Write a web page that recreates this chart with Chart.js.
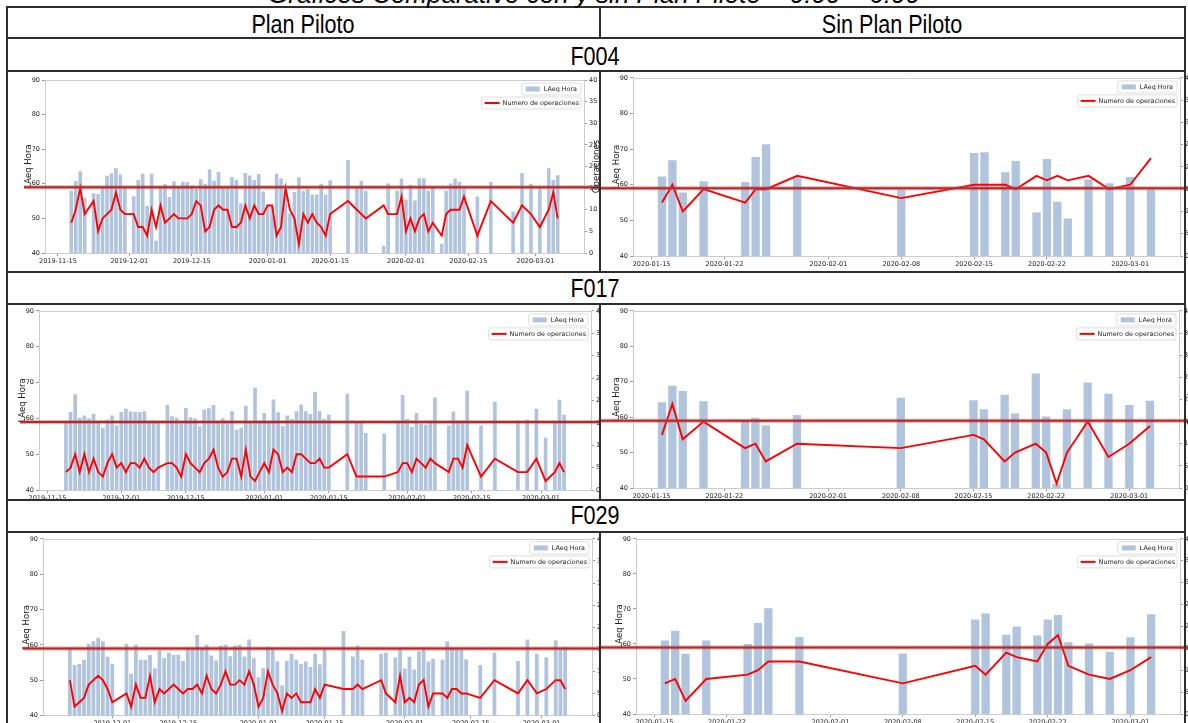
<!DOCTYPE html>
<html lang="es">
<head>
<meta charset="utf-8">
<title>Gráficos Comparativo con y sin Plan Piloto</title>
<script src="https://cdn.jsdelivr.net/npm/chart.js@4.4.1/dist/chart.umd.min.js"></script>
<style>
  html, body { margin:0; padding:0; background:#fff; }
  body { width:1188px; height:723px; position:relative; overflow:hidden; font-family:"Liberation Sans", Arial, sans-serif; }
  .cell { position:absolute; overflow:hidden; }
  .cell canvas { position:absolute; left:0; top:0; }
  .hl, .vl { position:absolute; background:#2e2e2e; }
  .hl { height:2px; }
  .vl { width:2px; }
  .t { position:absolute; white-space:nowrap; line-height:26px; font-size:26px; color:#000; transform:translateX(-50%) scaleX(0.83); }
</style>
</head>
<body>
<script>
// ---------------- DATA ----------------
const leftTickLabels  = ['2019-11-15','2019-12-01','2019-12-15','2020-01-01','2020-01-15','2020-02-01','2020-02-15','2020-03-01'];
const rightTickLabels = ['2020-01-15','2020-01-22','2020-02-01','2020-02-08','2020-02-15','2020-02-22','2020-03-01'];
const thresholdLAeq = 59;

// F004 - Plan Piloto
const f004PlanDates = [
 '2019-11-18','2019-11-19','2019-11-20','2019-11-21','2019-11-23','2019-11-24','2019-11-25','2019-11-26','2019-11-27','2019-11-28','2019-11-29','2019-11-30',
 '2019-12-02','2019-12-03','2019-12-04','2019-12-05','2019-12-06','2019-12-07','2019-12-08','2019-12-09','2019-12-10','2019-12-11','2019-12-12','2019-12-13','2019-12-14','2019-12-15','2019-12-16',
 '2019-12-17','2019-12-18','2019-12-19','2019-12-20','2019-12-21','2019-12-22','2019-12-23','2019-12-24','2019-12-25','2019-12-26','2019-12-27','2019-12-28','2019-12-29','2019-12-30','2019-12-31',
 '2020-01-01','2020-01-02','2020-01-03','2020-01-04','2020-01-05','2020-01-06','2020-01-07','2020-01-08','2020-01-09','2020-01-10','2020-01-11','2020-01-12','2020-01-13','2020-01-14','2020-01-15',
 '2020-01-19','2020-01-21','2020-01-22','2020-01-23','2020-01-27','2020-01-28','2020-01-30','2020-01-31',
 '2020-02-01','2020-02-02','2020-02-03','2020-02-04','2020-02-05','2020-02-06','2020-02-07',
 '2020-02-09','2020-02-10','2020-02-11','2020-02-12','2020-02-13','2020-02-14',
 '2020-02-17','2020-02-20','2020-02-25','2020-02-27','2020-02-29','2020-03-02','2020-03-04','2020-03-05','2020-03-06'];
const f004PlanLAeq = [
 58.0,60.8,63.6,56.0, 57.3,57.1,58.8,62.3,63.0,64.5,62.7,58.8,
 56.4,61.1,62.9,53.6,62.9,43.6,59.2,59.9,56.2,60.7,58.7,60.6,60.5,59.5,58.5,
 61.3,59.9,64.1,60.9,63.4,58.8,58.8,62.0,61.2,54.4,63.1,62.4,61.1,62.8,57.8,
 54.1,53.5,62.9,61.6,57.6,51.5,57.6,61.9,57.9,58.5,56.9,56.9,60.0,56.8,61.0,
 66.9,59.0,60.9,58.0,42.1,60.1,58.0,61.5,
 55.4,59.7,55.2,61.6,61.6,58.0,59.0,
 42.7,58.0,60.1,61.5,60.5,58.7,
 56.3,60.5,52.0,63.1,60.0,59.0,64.5,61.1,62.5];
const f004PlanOps = [
 7,10,15,9, 12,5,8,9,10,14,10,9,
 9,6,6,4,10,6,11,7,8,9,8,8,8,9,12,
 11,5,6,10,11,10,10,6,6,7,11,8,11,9,9,
 11,11,4,6,15,10,8,2,9,7,9,7,6,4,9,
 12,10,9,8,11,9,9,13,
 5,8,5,8,9,5,7,
 4,9,10,10,10,13,
 4,12,7,11,9,6,10,14,8];

// F017 - Plan Piloto
const f017PlanDates = [
 '2019-11-19','2019-11-20','2019-11-21','2019-11-22','2019-11-23','2019-11-24','2019-11-25','2019-11-26','2019-11-27','2019-11-28','2019-11-29','2019-11-30',
 '2019-12-01','2019-12-02','2019-12-03','2019-12-04','2019-12-05','2019-12-06','2019-12-07','2019-12-08','2019-12-09',
 '2019-12-11','2019-12-12','2019-12-13','2019-12-14','2019-12-15','2019-12-16','2019-12-17','2019-12-18','2019-12-19','2019-12-20','2019-12-21',
 '2019-12-22','2019-12-23','2019-12-24','2019-12-25','2019-12-26','2019-12-27','2019-12-28','2019-12-29','2019-12-30','2019-12-31',
 '2020-01-01','2020-01-02','2020-01-03','2020-01-04','2020-01-05','2020-01-06','2020-01-07','2020-01-08','2020-01-09','2020-01-10','2020-01-11','2020-01-12','2020-01-13','2020-01-14','2020-01-15',
 '2020-01-19','2020-01-21','2020-01-22','2020-01-23','2020-01-27','2020-01-30','2020-01-31',
 '2020-02-01','2020-02-02','2020-02-03','2020-02-04','2020-02-05','2020-02-06','2020-02-07',
 '2020-02-10','2020-02-11','2020-02-12','2020-02-13','2020-02-14',
 '2020-02-17','2020-02-20','2020-02-25','2020-02-27','2020-02-29','2020-03-02','2020-03-04','2020-03-05','2020-03-06'];
const f017PlanLAeq = [
 59.2,61.8,66.7,60.2,60.8,60.0,61.3,59.0,57.4,59.7,60.8,58.1,
 61.8,62.7,61.9,61.8,61.8,62.0,59.0,59.5,59.2,
 63.8,60.6,60.2,58.6,62.9,60.3,60.0,57.8,62.5,62.8,63.7,
 59.3,60.0,58.6,62.0,56.8,57.4,63.5,59.2,68.6,59.2,
 61.5,59.0,65.3,61.7,57.9,60.8,59.8,62.0,63.9,62.0,61.2,67.4,62.0,59.9,61.0,
 66.9,59.0,58.8,55.9,55.8,59.0,66.5,
 59.8,57.6,61.5,58.5,58.3,59.3,65.8,
 58.0,61.9,59.3,59.3,67.7,
 58.0,64.6,59.3,59.7,62.7,54.6,59.0,65.2,61.0];
const f017PlanOps = [
 4,5,8,4,8,4,7,4,3,6,8,5,
 6,4,6,6,5,7,5,4,5,
 6,6,5,3,8,6,5,4,6,7,9,
 5,3,4,7,7,3,9,3,2,4,
 6,4,9,8,4,5,4,8,8,7,6,6,7,5,5,
 8,3,3,3,3,4,6,
 6,4,7,6,5,7,6,
 4,7,7,5,10,
 3,7,4,4,7,2,4,6,4];

// F029 - Plan Piloto
const f029PlanDates = [
 '2019-11-22','2019-11-23','2019-11-24','2019-11-25','2019-11-26','2019-11-27','2019-11-28','2019-11-29','2019-11-30','2019-12-01',
 '2019-12-04','2019-12-05','2019-12-06','2019-12-07','2019-12-08','2019-12-09','2019-12-10','2019-12-11','2019-12-12','2019-12-13','2019-12-14',
 '2019-12-15','2019-12-16','2019-12-17','2019-12-18','2019-12-19','2019-12-20','2019-12-21','2019-12-22','2019-12-23','2019-12-24','2019-12-25',
 '2019-12-26','2019-12-27','2019-12-28','2019-12-29','2019-12-30','2019-12-31',
 '2020-01-01','2020-01-02','2020-01-03','2020-01-04','2020-01-05','2020-01-06','2020-01-07','2020-01-08','2020-01-09','2020-01-10','2020-01-11','2020-01-12','2020-01-13','2020-01-14','2020-01-15',
 '2020-01-19','2020-01-21','2020-01-22','2020-01-23','2020-01-27','2020-01-28','2020-01-30','2020-01-31',
 '2020-02-01','2020-02-02','2020-02-03','2020-02-04','2020-02-05','2020-02-06','2020-02-07',
 '2020-02-09','2020-02-10','2020-02-11','2020-02-12','2020-02-13','2020-02-14',
 '2020-02-17','2020-02-20','2020-02-25','2020-02-27','2020-02-29','2020-03-02','2020-03-04','2020-03-05','2020-03-06'];
const f029PlanLAeq = [
 59.2,54.3,54.6,55.8,60.3,61.0,62.0,61.0,56.6,54.6,
 60.3,51.8,60.0,55.8,55.8,57.1,53.4,58.5,56.3,57.8,57.1,
 57.2,55.4,59.1,59.1,62.8,59.1,60.0,57.0,55.6,59.8,60.0,
 56.8,59.8,60.0,56.7,61.5,56.2,
 50.8,53.4,59.5,58.8,55.3,48.5,55.5,57.4,55.8,54.6,55.3,53.7,57.5,54.5,59.0,
 63.9,56.7,59.8,55.8,57.5,57.8,56.4,58.9,
 53.3,56.6,53.0,58.2,59.3,55.3,56.1,
 55.8,61.0,59.1,59.1,58.8,55.9,
 54.3,57.8,55.4,61.5,57.5,56.5,61.3,59.0,59.5];
const f029PlanOps = [
 8,2,3,4,7,8,9,8,6,3,
 5,2,7,4,4,9,3,6,5,6,7,
 6,5,6,6,7,5,9,6,5,7,10,
 7,7,8,7,10,7,
 2,4,10,7,5,1,5,4,5,3,3,3,6,4,7,
 6,6,7,6,8,5,3,9,
 3,4,3,7,8,2,5,
 5,4,6,6,5,5,
 4,8,5,8,5,6,8,8,6];

// Sin Plan Piloto (same days for the three stations)
const sinPlanDates = ['2020-01-16','2020-01-17','2020-01-18','2020-01-20','2020-01-24','2020-01-25','2020-01-26','2020-01-29','2020-02-08',
 '2020-02-15','2020-02-16','2020-02-18','2020-02-19','2020-02-21','2020-02-22','2020-02-23','2020-02-24','2020-02-26','2020-02-28','2020-03-01','2020-03-03'];
const f004SinLAeq = [62.3,66.9,57.8,61.0,60.8,67.8,71.4,62.3,58.5,68.9,69.1,63.5,66.7,52.2,67.2,55.2,50.5,61.5,60.4,62.2,58.7];
const f004SinOps  = [12,16,10,15,12,15,15,18,13,16,16,16,15,18,17,18,17,18,15,16,22];
const f017SinLAeq = [64.2,68.9,67.4,64.5,59.0,59.8,57.7,60.6,65.5,64.8,62.2,66.3,61.0,72.3,60.2,41.2,62.2,69.8,66.6,63.4,64.6];
const f017SinOps  = [12,19,11,15,9,10,6,10,9,12,11,6,8,10,8,1,8,15,7,10,14];
const f029SinLAeq = [61.0,63.8,57.2,61.0,60.0,66.0,70.2,62.0,57.3,67.0,68.7,62.6,65.0,62.4,67.0,68.3,60.5,60.1,57.8,61.9,68.5];
const f029SinOps  = [7,8,3,8,9,10,12,12,7,11,9,14,13,12,16,18,11,9,8,10,13];

// ---------------- LAYOUT (page pixels) ----------------
// cell: [x, y, w, h]; plot: [left, right, top, bottom]
const LAYOUT = {
  f004Plan: {cell:[8,72,591,199],   plot:[45,584,80,253],        lineStart:16},
  f004Sin:  {cell:[601,72,587,199], plot:[633,1180,77,256],      lineStart:0},
  f017Plan: {cell:[8,305,591,194],  plot:[39,591,310,490],       lineStart:12},
  f017Sin:  {cell:[601,305,587,194],plot:[633,1179,310,488],     lineStart:0},
  f029Plan: {cell:[8,533,591,190],  plot:[43,592,538.5,715.5],   lineStart:15},
  f029Sin:  {cell:[601,533,587,190],plot:[636,1180,537,714],     lineStart:0}
};

// ---------------- HELPERS ----------------
Chart.defaults.font.family = "'DejaVu Sans', 'Liberation Sans', sans-serif";
const TICK_COLOR = '#222';
const SPINE = '#cccccc';
const BAR_COLOR = '#b0c4de';
const toDay = s => Date.UTC(+s.slice(0,4), +s.slice(5,7)-1, +s.slice(8,10)) / 864e5;
function xRange(days, w) {
  const lo = Math.min(...days) - w/2, hi = Math.max(...days) + w/2, m = (hi - lo) * 0.05;
  return [lo - m, hi + m];
}
function rrect(ctx, x, y, w, h, r) {
  ctx.beginPath();
  ctx.moveTo(x + r, y); ctx.lineTo(x + w - r, y); ctx.quadraticCurveTo(x + w, y, x + w, y + r);
  ctx.lineTo(x + w, y + h - r); ctx.quadraticCurveTo(x + w, y + h, x + w - r, y + h);
  ctx.lineTo(x + r, y + h); ctx.quadraticCurveTo(x, y + h, x, y + h - r);
  ctx.lineTo(x, y + r); ctx.quadraticCurveTo(x, y, x + r, y); ctx.closePath();
}

const decor = {
  id: 'decor',
  afterDraw(chart, args, o) {
    const {ctx, chartArea: a, scales} = chart;
    ctx.save();
    // top spine
    ctx.strokeStyle = SPINE; ctx.lineWidth = 1;
    ctx.beginPath(); ctx.moveTo(a.left, Math.round(a.top) + 0.5); ctx.lineTo(a.right, Math.round(a.top) + 0.5); ctx.stroke();
    // threshold line
    const ty = scales.y.getPixelForValue(o.threshold);
    ctx.strokeStyle = 'rgba(205,90,90,0.5)'; ctx.lineWidth = 4;
    ctx.beginPath(); ctx.moveTo(o.lineStart, ty); ctx.lineTo(chart.width, ty); ctx.stroke();
    ctx.strokeStyle = '#b42a2a'; ctx.lineWidth = 2;
    ctx.beginPath(); ctx.moveTo(o.lineStart, ty); ctx.lineTo(chart.width, ty); ctx.stroke();
    // legends
    const barDs = chart.data.datasets.find(d => d.type === 'bar');
    const lineDs = chart.data.datasets.find(d => d.type === 'line');
    ctx.font = "6.4px 'DejaVu Sans'";
    ctx.textBaseline = 'middle'; ctx.textAlign = 'left';
    const right = a.right - 3;
    const w1 = ctx.measureText(barDs.label).width + 26;
    const w2 = ctx.measureText(lineDs.label).width + 23;
    let x = right - w1, y = a.top + 3;
    rrect(ctx, x, y, w1, 12, 2);
    ctx.fillStyle = 'rgba(255,255,255,0.85)'; ctx.fill();
    ctx.strokeStyle = '#d6d6d6'; ctx.lineWidth = 0.8; ctx.stroke();
    ctx.fillStyle = barDs.backgroundColor; ctx.fillRect(x + 4, y + 3.5, 14, 5);
    ctx.fillStyle = '#222'; ctx.fillText(barDs.label, x + 22, y + 6.3);
    x = right - w2; y = a.top + 17;
    rrect(ctx, x, y, w2, 12, 2);
    ctx.fillStyle = 'rgba(255,255,255,0.85)'; ctx.fill();
    ctx.strokeStyle = '#d6d6d6'; ctx.lineWidth = 0.8; ctx.stroke();
    ctx.strokeStyle = lineDs.borderColor; ctx.lineWidth = 2;
    ctx.beginPath(); ctx.moveTo(x + 3, y + 6); ctx.lineTo(x + 18, y + 6); ctx.stroke();
    ctx.fillStyle = '#222'; ctx.fillText(lineDs.label, x + 21, y + 6.3);
    // right axis title
    ctx.translate(a.right + 13, (a.top + a.bottom) / 2);
    ctx.rotate(-Math.PI / 2);
    ctx.font = "8.5px 'DejaVu Sans'"; ctx.textAlign = 'center'; ctx.fillStyle = '#222';
    ctx.fillText('Operaciones', 0, 0);
    ctx.restore();
  }
};

function build(key, dates, laeq, ops, tickLabels) {
  if (dates.length !== laeq.length || dates.length !== ops.length) console.error('length mismatch', key, dates.length, laeq.length, ops.length);
  const L = LAYOUT[key];
  const [cx, cy, cw, ch] = L.cell;
  const [pl, pr, pt, pb] = L.plot;
  const wrap = document.createElement('div');
  wrap.className = 'cell';
  wrap.style.cssText = `left:${cx}px;top:${cy}px;width:${cw}px;height:${ch}px;`;
  const cv = document.createElement('canvas');
  const W = cw + 60, H = ch + 40;
  cv.width = W; cv.height = H; cv.style.width = W + 'px'; cv.style.height = H + 'px';
  wrap.appendChild(cv);
  document.body.appendChild(wrap);

  const YW = 30, Y2W = 30, XH = 20;
  const padding = {left: pl - cx - YW, right: W - (pr - cx) - Y2W, top: pt - cy, bottom: H - (pb - cy) - XH};
  const days = dates.map(toDay);
  const [xmin, xmax] = xRange(days, 0.8);
  const tickDays = tickLabels.map(toDay);
  const labelOf = {};
  tickLabels.forEach((s, i) => { labelOf[tickDays[i]] = s; });
  const tickFont = {size: 6.5};

  new Chart(cv, {
    type: 'bar',
    data: {
      datasets: [
        {type: 'line', label: 'Numero de operaciones', data: days.map((d, i) => ({x: d, y: ops[i]})), yAxisID: 'y2',
         borderColor: '#ff0000', borderWidth: 1.9, pointRadius: 0, tension: 0, order: 0},
        {type: 'bar', label: 'LAeq Hora', data: days.map((d, i) => ({x: d, y: laeq[i]})), yAxisID: 'y',
         backgroundColor: BAR_COLOR, categoryPercentage: 1, barPercentage: 0.8, order: 1}
      ]
    },
    options: {
      responsive: false, animation: false, devicePixelRatio: 1,
      layout: {padding},
      plugins: {legend: {display: false}, tooltip: {enabled: false}, decor: {threshold: thresholdLAeq, lineStart: L.lineStart}},
      scales: {
        x: {
          type: 'linear', min: xmin, max: xmax, offset: false,
          afterFit: s => { s.height = XH; },
          afterBuildTicks: s => { s.ticks = tickDays.filter(v => v >= s.min && v <= s.max).map(v => ({value: v})); },
          ticks: {autoSkip: false, maxRotation: 0, minRotation: 0, font: tickFont, color: TICK_COLOR, padding: 1,
                  callback: v => labelOf[v] || ''},
          grid: {drawOnChartArea: false, drawTicks: true, tickLength: 3, color: '#9a9a9a', offset: false},
          border: {display: true, color: SPINE}
        },
        y: {
          position: 'left', min: 40, max: 90,
          afterFit: s => { s.width = YW; },
          ticks: {stepSize: 10, font: tickFont, color: TICK_COLOR, padding: 2},
          grid: {drawOnChartArea: false, drawTicks: true, tickLength: 3, color: '#9a9a9a'},
          border: {display: true, color: SPINE},
          title: {display: true, text: 'LAeq Hora', font: {size: 8.5}, color: '#222', padding: {top: 9, bottom: 0}}
        },
        y2: {
          position: 'right', min: 0, max: 40,
          afterFit: s => { s.width = Y2W; },
          ticks: {stepSize: 5, font: tickFont, color: TICK_COLOR, padding: 2},
          grid: {drawOnChartArea: false, drawTicks: true, tickLength: 3, color: '#9a9a9a'},
          border: {display: true, color: SPINE}
        }
      }
    },
    plugins: [decor]
  });
}

build('f004Plan', f004PlanDates, f004PlanLAeq, f004PlanOps, leftTickLabels);
build('f004Sin',  sinPlanDates,  f004SinLAeq,  f004SinOps,  rightTickLabels);
build('f017Plan', f017PlanDates, f017PlanLAeq, f017PlanOps, leftTickLabels);
build('f017Sin',  sinPlanDates,  f017SinLAeq,  f017SinOps,  rightTickLabels);
build('f029Plan', f029PlanDates, f029PlanLAeq, f029PlanOps, leftTickLabels);
build('f029Sin',  sinPlanDates,  f029SinLAeq,  f029SinOps,  rightTickLabels);

// ---------------- TABLE FRAME & HEADINGS ----------------
function add(cls, css, text) {
  const d = document.createElement('div');
  d.className = cls; d.style.cssText = css;
  if (text) d.textContent = text;
  document.body.appendChild(d);
}
[6, 37, 70, 271, 303, 499, 531].forEach(y => add('hl', `left:6px;top:${y}px;width:1180px;`));
add('vl', 'left:6px;top:6px;height:717px;');
add('vl', 'left:1184px;top:6px;height:717px;');
[[6, 33], [70, 203], [303, 198], [531, 192]].forEach(([y, h]) => add('vl', `left:599px;top:${y}px;height:${h}px;`));

add('t', 'left:594px;top:-19px;font-style:italic;transform:translateX(-50%);', 'Gráficos Comparativo con y sin Plan Piloto – 0:00 – 6:00');
add('t', 'left:303px;top:11px;', 'Plan Piloto');
add('t', 'left:892px;top:11px;', 'Sin Plan Piloto');
add('t', 'left:595px;top:43px;', 'F004');
add('t', 'left:595px;top:275px;', 'F017');
add('t', 'left:595px;top:502px;', 'F029');
</script>
</body>
</html>
